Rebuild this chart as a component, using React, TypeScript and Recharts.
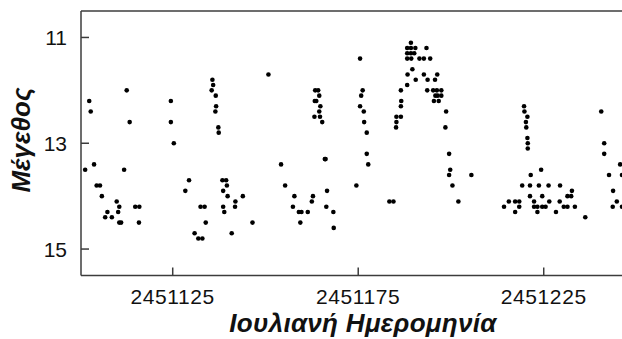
import { ScatterChart, Scatter, XAxis, YAxis, ReferenceLine, Label } from "recharts";

// Observations: [Julian date, magnitude], grouped by observing run
const run1: [number, number][] = [
  [2451101.4, 13.5], [2451102.5, 12.2], [2451102.9, 12.4], [2451103.8, 13.4],
  [2451104.5, 13.8], [2451105.4, 13.8], [2451105.9, 14.0], [2451107.4, 14.3],
  [2451106.8, 14.4], [2451108.6, 14.4], [2451109.9, 14.1], [2451110.6, 14.2],
  [2451110.3, 14.3], [2451110.6, 14.5], [2451111.1, 14.5], [2451112.6, 12.0],
  [2451113.4, 12.6], [2451111.9, 13.5], [2451114.9, 14.2], [2451116.0, 14.2],
  [2451115.9, 14.5],
];

const run2: [number, number][] = [
  [2451124.5, 12.2], [2451124.5, 12.6], [2451125.3, 13.0], [2451129.4, 13.7],
  [2451128.4, 13.9], [2451132.5, 14.2], [2451133.6, 14.2], [2451133.9, 14.5],
  [2451130.9, 14.7], [2451131.9, 14.8], [2451133.0, 14.8], [2451135.7, 11.8],
  [2451135.9, 11.9], [2451135.5, 12.0], [2451136.6, 12.1], [2451136.7, 12.3],
  [2451136.5, 12.4], [2451137.3, 12.7], [2451137.4, 12.8], [2451138.4, 13.7],
  [2451139.4, 13.7], [2451139.6, 13.8], [2451138.6, 13.9], [2451139.8, 14.0],
  [2451138.6, 14.2], [2451138.9, 14.3], [2451141.9, 14.1], [2451141.8, 14.2],
  [2451143.9, 14.0], [2451140.9, 14.7], [2451146.5, 14.5], [2451150.8, 11.7],
];

const run3: [number, number][] = [
  [2451154.2, 13.4], [2451155.3, 13.8], [2451157.8, 14.0], [2451157.4, 14.2],
  [2451159.0, 14.3], [2451159.7, 14.3], [2451159.4, 14.5], [2451161.4, 14.3],
  [2451162.5, 14.1], [2451162.8, 14.0], [2451163.4, 12.0], [2451164.2, 12.0],
  [2451164.5, 12.1], [2451163.3, 12.2], [2451163.7, 12.2], [2451164.8, 12.3],
  [2451164.5, 12.4], [2451163.2, 12.5], [2451164.7, 12.5], [2451165.3, 12.6],
  [2451166.0, 13.3], [2451166.2, 13.3], [2451166.6, 13.9], [2451166.4, 14.2],
  [2451168.3, 14.3], [2451168.4, 14.6],
];

const run4: [number, number][] = [
  [2451175.5, 11.4], [2451176.2, 12.0], [2451175.8, 12.1], [2451175.5, 12.3],
  [2451176.5, 12.4], [2451176.6, 12.6], [2451177.3, 12.8], [2451177.3, 13.2],
  [2451177.7, 13.4], [2451174.5, 13.8], [2451183.4, 14.1], [2451184.5, 14.1],
  [2451185.3, 12.5], [2451186.5, 12.5], [2451185.3, 12.6], [2451185.2, 12.7],
  [2451186.5, 12.3], [2451186.6, 12.2], [2451186.5, 12.0], [2451188.2, 11.9],
  [2451188.3, 11.7], [2451189.6, 11.6], [2451190.5, 11.8], [2451189.2, 11.1],
  [2451188.2, 11.2], [2451189.2, 11.2], [2451190.4, 11.2], [2451188.2, 11.3],
  [2451189.2, 11.3], [2451190.1, 11.3], [2451188.2, 11.4], [2451189.3, 11.4],
  [2451191.5, 11.4], [2451192.7, 11.4], [2451193.4, 11.2], [2451194.4, 11.4],
  [2451192.7, 11.7], [2451193.7, 11.8], [2451193.6, 12.0], [2451195.7, 11.8],
  [2451196.3, 11.7], [2451195.2, 12.0], [2451196.2, 12.0], [2451197.4, 12.0],
  [2451195.8, 12.1], [2451196.4, 12.1], [2451197.4, 12.1], [2451195.4, 12.2],
  [2451196.7, 12.2], [2451198.7, 12.4], [2451198.5, 12.7], [2451199.5, 13.2],
  [2451199.8, 13.5], [2451199.5, 13.6], [2451200.4, 13.8], [2451202.0, 14.1],
  [2451205.5, 13.6],
];

const run5: [number, number][] = [
  [2451219.7, 12.3], [2451219.8, 12.4], [2451220.6, 12.5], [2451220.2, 12.6],
  [2451220.3, 12.7], [2451220.6, 12.9], [2451220.7, 13.0], [2451220.7, 13.1],
  [2451221.5, 13.6], [2451224.3, 13.5], [2451219.2, 13.8], [2451221.3, 13.8],
  [2451223.7, 13.8], [2451226.3, 13.8], [2451229.4, 13.8], [2451232.6, 13.9],
  [2451231.4, 14.0], [2451232.4, 14.0], [2451221.3, 14.0], [2451224.6, 14.0],
  [2451215.6, 14.1], [2451217.3, 14.1], [2451218.4, 14.1], [2451222.4, 14.1],
  [2451226.5, 14.1], [2451229.3, 14.1], [2451214.3, 14.2], [2451218.4, 14.2],
  [2451222.4, 14.2], [2451223.3, 14.2], [2451224.6, 14.2], [2451225.5, 14.2],
  [2451230.4, 14.2], [2451231.4, 14.2], [2451233.4, 14.2], [2451217.3, 14.3],
  [2451223.3, 14.3], [2451228.3, 14.3], [2451236.2, 14.4],
];

const run6: [number, number][] = [
  [2451240.5, 12.4], [2451241.3, 13.0], [2451241.3, 13.2], [2451245.6, 13.4],
  [2451242.6, 13.6], [2451243.7, 13.9], [2451244.7, 14.1], [2451243.6, 14.2],
  [2451246.1, 14.2], [2451246.1, 13.6],
];

const xTicks = [2451125, 2451175, 2451225];
const yTicks = [11, 13, 15];
const xDomain = [2451100.28, 2451250.95];
const yDomain = [10.5, 15.5];

const observations = [...run1, ...run2, ...run3, ...run4, ...run5, ...run6].map(
  ([jd, mag]) => ({ jd, mag })
);

const FONT = "'Liberation Sans', Arial, Helvetica, sans-serif";
const AXIS = "#3c3c3c";

function XTick({ x, y, payload }: any) {
  return (
    <g>
      <line x1={x} x2={x} y1={y} y2={y - 8} stroke={AXIS} strokeWidth={1.5} />
      <text x={x} y={y + 28.5} textAnchor="middle" fontFamily={FONT} fontSize={21} letterSpacing={0.6} fill="#111">
        {payload.value}
      </text>
    </g>
  );
}

function YTick({ x, y, payload }: any) {
  return (
    <g>
      <line x1={x} x2={x + 8} y1={y} y2={y} stroke={AXIS} strokeWidth={1.5} />
      <text x={x - 14} y={y + 7.5} textAnchor="end" fontFamily={FONT} fontSize={21} fill="#111">
        {payload.value}
      </text>
    </g>
  );
}

export default function App() {
  return (
    <div style={{ position: "absolute", left: 0, top: 0, width: 622, height: 339, overflow: "hidden", background: "#fff" }}>
      <ScatterChart width={640} height={339} margin={{ top: 11, right: 0, bottom: 0, left: 0 }}>
        <XAxis
          type="number"
          dataKey="jd"
          domain={xDomain}
          ticks={xTicks}
          allowDataOverflow
          height={63.5}
          tickSize={0}
          tickMargin={0}
          tickLine={false}
          axisLine={{ stroke: AXIS, strokeWidth: 1.5 }}
          tick={<XTick />}
        >
          <Label
            content={() => (
              <text x={363} y={331.7} textAnchor="middle" fontFamily={FONT} fontSize={26} fontWeight="bold" fontStyle="italic" letterSpacing={0.3} fill="#111">
                Ιουλιανή Ημερομηνία
              </text>
            )}
          />
        </XAxis>
        <YAxis
          type="number"
          dataKey="mag"
          domain={yDomain}
          reversed
          ticks={yTicks}
          allowDataOverflow
          width={81}
          tickSize={0}
          tickMargin={0}
          tickLine={false}
          axisLine={{ stroke: AXIS, strokeWidth: 1.5 }}
          tick={<YTick />}
        >
          <Label
            content={() => (
              <text x={30} y={140} transform="rotate(-90 30 140)" textAnchor="middle" fontFamily={FONT} fontSize={26} fontWeight="bold" fontStyle="italic" fill="#111">
                Μέγεθος
              </text>
            )}
          />
        </YAxis>
        <ReferenceLine y={10.5} stroke={AXIS} strokeWidth={1.5} />
        <Scatter
          data={observations}
          isAnimationActive={false}
          shape={(p: any) => <circle cx={p.cx} cy={p.cy} r={2.3} fill="#000" />}
        />
      </ScatterChart>
    </div>
  );
}
